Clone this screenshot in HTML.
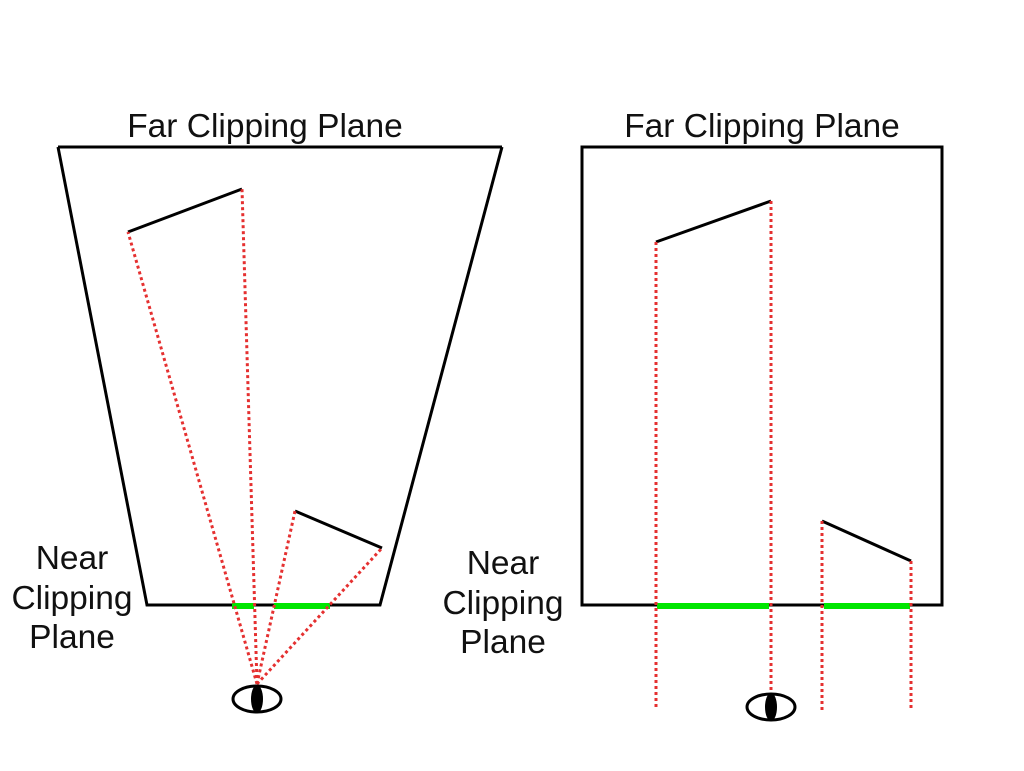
<!DOCTYPE html>
<html><head><meta charset="utf-8"><style>html,body{margin:0;padding:0;background:#fff}svg{display:block}text{font-family:"Liberation Sans",Arial,sans-serif;font-size:33.5px;fill:#111}</style></head>
<body>
<svg width="1024" height="771" viewBox="0 0 1024 771" xmlns="http://www.w3.org/2000/svg">
<rect width="1024" height="771" fill="#fff"/>
<text x="265" y="137" text-anchor="middle">Far Clipping Plane</text>
<text x="762" y="137" text-anchor="middle">Far Clipping Plane</text>
<g text-anchor="middle">
<text x="72" y="569">Near</text><text x="72" y="609">Clipping</text><text x="72" y="648">Plane</text>
<text x="503" y="574">Near</text><text x="503" y="614">Clipping</text><text x="503" y="653">Plane</text>
</g>
<g fill="none" stroke="#000" stroke-width="3">
<polyline points="58,147 502,147"/>
<polyline points="58,147 147,605 380,605 502,147"/>
<line x1="128" y1="232" x2="242" y2="189"/>
<line x1="295" y1="511" x2="382" y2="548"/>
<rect x="582" y="147" width="360" height="458"/>
<line x1="656" y1="242" x2="771" y2="201"/>
<line x1="822" y1="521" x2="911" y2="561"/>
</g>
<g stroke="#00e600" stroke-width="6">
<line x1="232" y1="606" x2="254" y2="606"/>
<line x1="274" y1="606" x2="330" y2="606"/>
<line x1="657" y1="606" x2="769" y2="606"/>
<line x1="824" y1="606" x2="910" y2="606"/>
</g>
<g stroke="#e53030" stroke-width="3" stroke-dasharray="3 3" fill="none">
<line x1="257" y1="684" x2="128" y2="232"/>
<line x1="257" y1="684" x2="242" y2="189"/>
<line x1="257" y1="684" x2="295" y2="511"/>
<line x1="257" y1="684" x2="382" y2="548"/>
<line x1="656" y1="242" x2="656" y2="710"/>
<line x1="771" y1="201" x2="771" y2="692"/>
<line x1="822" y1="521" x2="822" y2="710"/>
<line x1="911" y1="561" x2="911" y2="710"/>
</g>
<ellipse cx="257" cy="699" rx="24" ry="13" fill="none" stroke="#000" stroke-width="3"/>
<ellipse cx="257" cy="699" rx="6" ry="14" fill="#000"/>
<ellipse cx="771" cy="707" rx="24" ry="13" fill="none" stroke="#000" stroke-width="3"/>
<ellipse cx="771" cy="707" rx="6" ry="14" fill="#000"/>
</svg>
</body></html>
